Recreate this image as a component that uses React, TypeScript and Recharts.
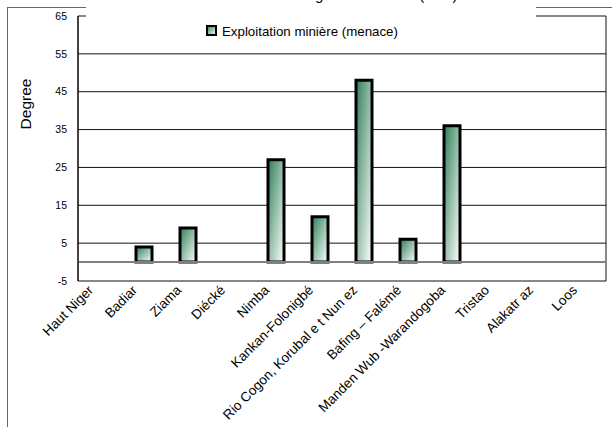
import React from 'react';
import {
  BarChart,
  Bar,
  XAxis,
  YAxis,
  CartesianGrid,
  ReferenceLine,
  Legend,
} from 'recharts';

// Sites along the x axis
const categories: string[] = [
  'Haut Niger',
  'Badiar',
  'Ziama',
  'Diécké',
  'Nimba',
  'Kankan-Folonigbé',
  'Rio Cogon, Korubal e t Nun ez',
  'Bafing – Falémé',
  'Manden Wub -Warandogoba',
  'Tristao',
  'Alakatr az',
  'Loos',
];

// Threat degree from mining at each site (null = no bar)
const miningThreat: (number | null)[] = [null, 4, 9, null, 27, 12, 48, 6, 36, null, null, null];

const yTicks: number[] = [-5, 5, 15, 25, 35, 45, 55, 65];

const seriesName = 'Exploitation minière (menace)';
const chartTitle = 'Degré de menace (total)';
const yAxisTitle = 'Degree';

const data = categories.map((name, i) => ({ name, value: miningThreat[i] }));

const FONT = '"Liberation Sans", Arial, Helvetica, sans-serif';

const CategoryTick = (props: any) => {
  const { x, y, payload } = props;
  return (
    <g transform={`translate(${x - 6},${y + 10}) rotate(-45)`}>
      <text x={0} y={0} textAnchor="end" fontSize={13.5} fontFamily={FONT} fill="#000">
        {payload.value}
      </text>
    </g>
  );
};

const YTitle = () => (
  <text
    x={25}
    y={104}
    transform="rotate(-90 25 104)"
    textAnchor="middle"
    dominantBaseline="central"
    fontSize={15.5}
    fontWeight={400}
    fontFamily={FONT}
    fill="#000"
  >
    {yAxisTitle}
  </text>
);

const LegendBox = (props: any) => {
  const payload = props.payload || [];
  return (
    <div style={{ width: 450, height: 44, background: '#fff' }}>
      <svg width={450} height={44} style={{ display: 'block' }}>
        <defs>
          <linearGradient id="legendFill" x1="0" y1="0" x2="1" y2="1">
            <stop offset="0%" stopColor="#2f7f57" />
            <stop offset="100%" stopColor="#ffffff" />
          </linearGradient>
        </defs>
        <text x={371.5} y={0} textAnchor="end" fontSize={15} fontFamily={FONT} fill="#000">
          {chartTitle}
        </text>
        {payload.map((entry: any, i: number) => (
          <g key={i}>
            <rect x={121} y={26} width={9} height={9} fill="url(#legendFill)" stroke="#000" strokeWidth={2} />
            <text x={136} y={35.5} fontSize={13.3} fontFamily={FONT} fill="#000">
              {entry.value}
            </text>
          </g>
        ))}
      </svg>
    </div>
  );
};

export default function App() {
  return (
    <div
      style={{
        position: 'absolute',
        left: 0,
        top: 0,
        width: 612,
        height: 427,
        overflow: 'hidden',
        background: '#fff',
        fontFamily: FONT,
      }}
    >
      <div
        style={{
          position: 'absolute',
          left: 7,
          top: 7,
          width: 700,
          height: 500,
          borderLeft: '1px solid #666',
          borderTop: '1px solid #666',
        }}
      />
      <BarChart
        width={612}
        height={427}
        data={data}
        margin={{ top: 16, right: 6, bottom: 6, left: 8 }}
        barCategoryGap={0}
      >
        <defs>
          <linearGradient id="barFill" x1="0" y1="0" x2="1" y2="1">
            <stop offset="0%" stopColor="#2f7f57" />
            <stop offset="100%" stopColor="#ffffff" />
          </linearGradient>
        </defs>
        <CartesianGrid
          stroke="#111"
          strokeWidth={1}
          vertical={true}
          verticalPoints={[78, 606]}
        />
        <XAxis
          dataKey="name"
          interval={0}
          axisLine={false}
          tickLine={false}
          tickSize={0}
          tickMargin={0}
          height={140}
          tick={<CategoryTick />}
        />
        <YAxis
          domain={[-5, 65]}
          ticks={yTicks}
          width={70}
          axisLine={{ stroke: '#000', strokeWidth: 1 }}
          tickLine={false}
          tickSize={0}
          tickMargin={11}
          tick={{ fontSize: 10.5, fontFamily: FONT, fill: '#000' }}
          label={<YTitle />}
        />
        <ReferenceLine y={0} stroke="#808080" strokeWidth={2} />
        <Legend
          layout="horizontal"
          verticalAlign="middle"
          align="center"
          width={450}
          height={44}
          wrapperStyle={{ left: 86, top: 0, width: 450, height: 44 }}
          content={<LegendBox />}
        />
        <Bar
          dataKey="value"
          name={seriesName}
          fill="url(#barFill)"
          stroke="#000"
          strokeWidth={3}
          barSize={16}
          isAnimationActive={false}
        />
      </BarChart>
    </div>
  );
}
